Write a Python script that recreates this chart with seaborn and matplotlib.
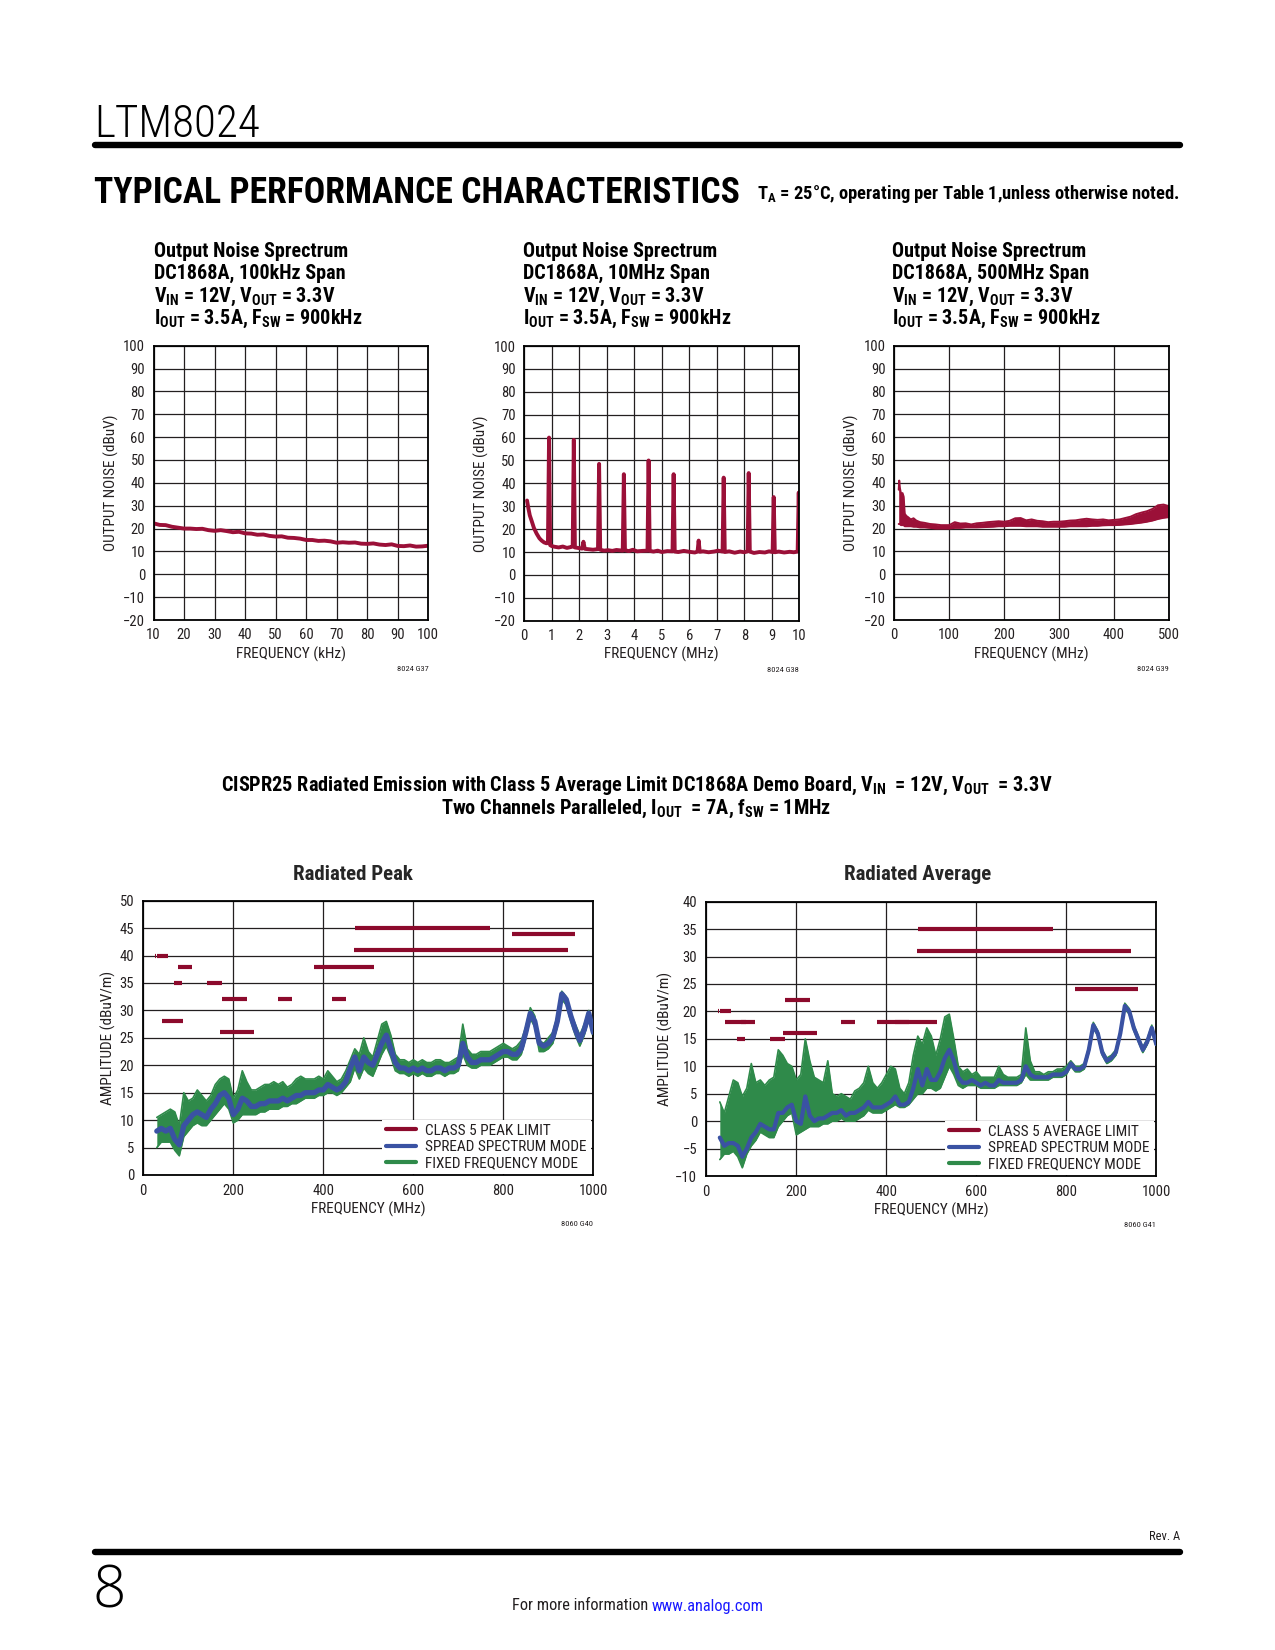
import matplotlib
matplotlib.use("Agg")
import matplotlib.pyplot as plt
import seaborn as sns
import pandas as pd
from matplotlib import font_manager
from matplotlib.lines import Line2D

# ---------------- data ----------------
# Output noise, 100kHz span
freq1_khz = [10, 12, 14, 16, 18, 20, 22, 24, 26, 28,
             30, 32, 34, 36, 38, 40, 42, 44, 46, 48,
             50, 52, 54, 56, 58, 60, 62, 64, 66, 68,
             70, 72, 74, 76, 78, 80, 82, 84, 86, 88,
             90, 92, 94, 96, 98, 100]
noise1_dbuv = [22.3, 21.6, 21.5, 20.8, 20.4, 20.0, 20.0, 19.8, 19.9, 19.3,
               19.0, 19.3, 18.9, 18.4, 18.6, 17.9, 17.8, 17.3, 17.4, 16.8,
               16.5, 16.6, 16.0, 15.9, 15.6, 15.0, 15.0, 14.6, 14.7, 14.4,
               13.8, 14.0, 13.8, 13.9, 13.4, 13.3, 13.5, 13.0, 12.8, 13.1,
               12.4, 12.3, 12.6, 12.1, 12.2, 12.5]

# Output noise, 10MHz span
freq2_mhz = [0.10, 0.15, 0.20, 0.27, 0.35, 0.45, 0.55, 0.63, 0.72, 0.81,
             0.86, 0.90, 0.94, 1.00, 1.10, 1.25, 1.40, 1.55, 1.70, 1.76,
             1.80, 1.84, 1.95, 2.10, 2.15, 2.20, 2.35, 2.50, 2.68, 2.72,
             2.76, 2.90, 3.05, 3.20, 3.35, 3.58, 3.62, 3.66, 3.80, 3.95,
             4.10, 4.30, 4.48, 4.52, 4.56, 4.70, 4.85, 5.00, 5.20, 5.39,
             5.43, 5.47, 5.60, 5.80, 6.00, 6.20, 6.30, 6.34, 6.38, 6.50,
             6.70, 6.90, 7.05, 7.21, 7.25, 7.29, 7.45, 7.65, 7.85, 8.00,
             8.12, 8.16, 8.20, 8.35, 8.55, 8.75, 8.90, 9.03, 9.07, 9.11,
             9.25, 9.45, 9.65, 9.80, 9.94, 9.98, 10.0]
noise2_dbuv = [32.5, 29.0, 26.0, 23.5, 20.5, 18.0, 16.0, 15.0, 14.2, 13.8,
               14.0, 60.0, 13.0, 12.6, 12.3, 12.0, 12.4, 11.8, 12.2, 12.4,
               59.0, 12.0, 11.8, 11.5, 14.5, 11.4, 11.2, 11.0, 11.3, 48.5,
               11.0, 10.6, 10.8, 10.5, 10.9, 10.6, 44.0, 10.8, 10.4, 11.0,
               10.3, 10.5, 10.6, 50.0, 10.5, 10.2, 10.6, 10.0, 10.4, 10.3,
               44.0, 10.2, 10.0, 10.5, 10.1, 9.8, 10.2, 15.0, 10.1, 10.3,
               9.9, 10.2, 10.6, 10.2, 42.5, 10.0, 10.3, 9.7, 10.2, 9.9,
               10.3, 44.5, 10.2, 9.6, 10.0, 9.8, 10.3, 10.0, 34.0, 9.9,
               10.2, 9.8, 10.1, 9.9, 10.2, 36.0, 20.0]

# Output noise, 500MHz span (min / max envelope of the trace)
freq3_mhz = [8, 9, 10, 12, 15, 17, 19, 22, 25, 30,
             35, 40, 47, 55, 65, 75, 85, 100, 110, 120,
             130, 140, 150, 160, 170, 180, 190, 200, 210, 220,
             230, 240, 250, 260, 270, 280, 290, 300, 310, 320,
             330, 340, 350, 360, 370, 380, 390, 400, 410, 420,
             430, 440, 450, 460, 470, 480, 490, 500]
noise3_lo = [22, 22, 22, 21.5, 21.5, 21.5, 21, 21, 21, 21,
             20.8, 20.8, 20.5, 20.5, 20.3, 20, 20, 20, 20.3, 20.3,
             20.5, 20.5, 20.5, 20.6, 20.7, 20.8, 21, 21, 21.2, 21.2,
             21.2, 21, 21, 21, 20.8, 20.8, 20.8, 20.8, 20.8, 21,
             21, 21, 21, 21.2, 21.2, 21.4, 21.5, 21.5, 21.6, 21.8,
             22, 22.3, 22.6, 23, 23.5, 24.2, 24.7, 25]
noise3_hi = [37, 41, 38, 35.5, 35.5, 34, 26.5, 25.5, 25, 24,
             24.5, 23.5, 22.8, 22.5, 22, 21.8, 21.5, 21.5, 22.8, 22.2,
             22.3, 21.8, 22.3, 22.5, 22.8, 23, 23.2, 23, 23.4, 24.5,
             24.6, 23.6, 24, 23.4, 23.2, 22.8, 23, 23, 23.2, 23.5,
             23.6, 24, 24.3, 24, 23.8, 24, 23.6, 23.8, 24, 24.6,
             25.2, 26.3, 27, 27.6, 28.6, 30.2, 30.5, 29.8]

# CISPR25 radiated emission sweeps (shared frequency grid)
rad_freq_mhz = [30, 40, 50, 60, 70, 80, 90, 100, 110, 120,
                130, 140, 150, 160, 170, 180, 190, 200, 210, 220,
                230, 240, 250, 260, 270, 280, 290, 300, 310, 320,
                330, 340, 350, 360, 370, 380, 390, 400, 410, 420,
                430, 440, 450, 460, 470, 480, 490, 500, 510, 520,
                530, 540, 550, 560, 570, 580, 590, 600, 610, 620,
                630, 640, 650, 660, 670, 680, 690, 700, 710, 720,
                730, 740, 750, 760, 770, 780, 790, 800, 810, 820,
                830, 840, 850, 860, 870, 880, 890, 900, 910, 920,
                930, 940, 950, 960, 970, 980, 990, 1000]
peak_spread = [8, 8.5, 8, 8.5, 6.5, 5.5, 9, 10, 11, 11.5,
               11, 10.5, 12, 13, 14.5, 15, 14, 11, 12, 14,
               13.5, 12.5, 12.5, 13, 13, 13.5, 13.5, 13.5, 14, 13.5,
               14, 14.5, 14.5, 15, 15, 15, 15.5, 15.5, 16.5, 16,
               15.5, 16, 17, 19.5, 21.5, 19, 21.5, 20.5, 20, 22,
               24, 25.5, 23, 20.5, 19.5, 19.5, 19, 19.5, 19, 19.5,
               19, 19, 19.5, 19.5, 19, 19.5, 19.5, 20, 24, 21.5,
               20.5, 20.5, 21, 21, 21, 21.5, 22, 22.5, 22.5, 22,
               22, 23, 26, 29.5, 28, 24, 23.5, 24, 25, 28,
               33, 32, 29, 26.5, 24.5, 26.5, 29.5, 26]
peak_fixed_lo = [5, 6, 6, 6, 4.5, 3.5, 7, 8, 9, 9.5,
                 9, 9, 10, 11, 12, 13, 12, 9.5, 10, 11,
                 11, 11, 11, 11.5, 11.5, 12, 12, 12, 12.5, 12.5,
                 13, 13, 13.5, 14, 14, 14, 14.5, 14.5, 15, 15,
                 14.5, 15, 16, 17, 19.5, 17.5, 19.5, 18.5, 18, 20,
                 22, 23.5, 21.5, 19, 18.5, 18.5, 18, 18.5, 18, 18.5,
                 18, 18, 18.5, 18.5, 18, 18.5, 18.5, 19, 22, 20,
                 19.5, 19.5, 20, 20, 20, 20.5, 21, 21.5, 21.5, 21,
                 21, 22, 25, 28.5, 27, 22.5, 22.5, 23, 24, 27,
                 32, 31, 28, 25.5, 23.5, 25.5, 28.5, 25]
peak_fixed_hi = [10.5, 11, 11.5, 12, 11.5, 9, 15, 13.5, 14, 15.5,
                 14.5, 13.5, 14.5, 16.5, 17.5, 18, 17.5, 14, 15.5, 19,
                 17, 15.5, 15.5, 16, 16.5, 16.5, 17, 16.5, 17, 16,
                 16.5, 17.5, 18, 17.5, 17.5, 17.5, 18, 17.5, 19, 18,
                 17, 17.5, 19, 21, 23, 22, 25, 22.5, 21.5, 24.5,
                 27.5, 28, 25.5, 22, 21, 21, 20.5, 21, 20.5, 21,
                 20.5, 20.5, 21, 21, 20.5, 20.5, 21, 21.5, 27.5, 23,
                 22, 22, 22.5, 22.5, 22.5, 23, 23.5, 24, 23.5, 23,
                 23.5, 24.5, 27, 30.5, 29, 24.5, 24, 25, 26, 29,
                 33.5, 32.5, 29.5, 27.5, 25.5, 27.5, 30, 26.5]
avg_spread = [-3, -4.5, -4, -4, -4.5, -6.5, -5, -3, -2, -0.5,
              -1, -1.5, -1.5, 1.5, 1.5, 2.5, 3, 0, -0.5, 4.5,
              1, 0, 0.5, 0.5, 1, 1.5, 1.5, 2, 1, 1.5,
              1.5, 2, 2.5, 3.5, 2.5, 2.5, 2.5, 3, 3.5, 4.5,
              3, 3, 3.5, 6, 9.5, 6.5, 9.5, 7.5, 7.5, 9,
              11.5, 13, 11, 8, 7, 7, 7.5, 7, 6.5, 7,
              6.5, 6.5, 7.5, 7, 7, 7, 7, 7.5, 10, 8.5,
              8, 8, 8, 8, 8.5, 8.5, 8.5, 9, 10.5, 9.5,
              9.5, 10, 13, 17.5, 16, 12.5, 11, 11.5, 12.5, 16,
              21, 20, 17, 15, 13, 14.5, 17, 14]
avg_fixed_lo = [-7, -6, -6, -5.5, -6.5, -8.5, -6, -4.5, -3.5, -2,
                -2.5, -3, -3, -1, 0, 1, 1.5, -2.5, -2, -1.5,
                -1, -1, -1, -0.5, -0.5, 0, 0, 0.5, 0, 0,
                0, 0.5, 1, 2, 1.5, 1.5, 1.5, 2, 2.5, 3,
                2.5, 2.5, 3, 4, 5, 5, 6, 6, 5.5, 6,
                8, 10, 8.5, 6.5, 6, 6.5, 6.5, 6.5, 6, 6,
                6, 6, 6.5, 6.5, 6.5, 6.5, 6.5, 7, 8.5, 7.5,
                7.5, 7.5, 7.5, 7.5, 8, 8, 8, 8.5, 10, 9,
                9, 9.5, 12.5, 17, 15.5, 12, 10.5, 11, 12, 15.5,
                20.5, 19.5, 16.5, 14.5, 12.5, 14, 16.5, 13.5]
avg_fixed_hi = [3.5, 1.5, 4.5, 7.5, 7, 4.5, 6, 10.5, 7, 7.5,
                6.5, 7.5, 8, 13, 12, 10.5, 10, 7.5, 8.5, 15,
                11, 8, 7.5, 7, 11, 5, 4.5, 5, 4.5, 4,
                5.5, 6, 7, 10, 7, 6, 7, 8.5, 10, 9.5,
                6, 5, 7, 12, 15.5, 14, 17, 15.5, 12, 15,
                19, 19.5, 15, 10, 9, 9.5, 8.5, 9, 8, 8,
                8, 8, 10, 8.5, 8, 8, 8, 8.5, 17, 11,
                9, 9, 8.5, 9, 9, 9.5, 9.5, 10, 11, 10,
                10, 10.5, 13.5, 18, 16.5, 13, 11.5, 12, 13, 16.5,
                21.5, 20.5, 17.5, 15.5, 13.5, 15, 17.5, 14.5]

# CISPR25 class 5 limit bands (MHz) and levels (dBuV/m)
limit_start = [5.9, 26, 30, 41, 68, 76, 142, 174, 171, 300, 380, 420, 470, 468, 820]
limit_stop = [6.2, 28, 54, 88, 87, 108, 175, 230, 245, 330, 512, 450, 770, 944, 960]
peak_limit = [40, 40, 40, 28, 35, 38, 35, 32, 26, 32, 38, 32, 45, 41, 44]
avg_limit = [20, 20, 20, 18, 15, 18, 15, 22, 16, 18, 18, 18, 35, 31, 24]

legend_peak = ["CLASS 5 PEAK LIMIT", "SPREAD SPECTRUM MODE", "FIXED FREQUENCY MODE"]
legend_avg = ["CLASS 5 AVERAGE LIMIT", "SPREAD SPECTRUM MODE", "FIXED FREQUENCY MODE"]

# ---------------- style ----------------
sns.set_theme(style="white")
installed = {f.name for f in font_manager.fontManager.ttflist}
NARROW = "Roboto Condensed" if "Roboto Condensed" in installed else "DejaVu Sans"
plt.rcParams["font.family"] = [NARROW, "DejaVu Sans"]
plt.rcParams["axes.unicode_minus"] = True

TRACE = "#9b1038"
LIMIT = "#8c0a2c"
BLUE = "#3a52a3"
GREEN = "#2f8a4a"
INK = "#231f20"

W, H = 1275, 1650
fig = plt.figure(figsize=(W / 100, H / 100), dpi=100)


def px(x, y):
    return x / W, 1 - y / H


def add_axes(left, top, right, bottom):
    return fig.add_axes([left / W, 1 - bottom / H, (right - left) / W, (bottom - top) / H])


def style(ax, xlim, ylim, xticks, yticks, xlabel, ylabel, ylab_x, xlab_y):
    ax.set_xlim(xlim)
    ax.set_ylim(ylim)
    ax.set_xticks(xticks)
    ax.set_yticks(yticks)
    ax.set_axisbelow(True)
    ax.grid(True, color=INK, linewidth=0.9)
    for s in ax.spines.values():
        s.set_visible(True)
        s.set_color("black")
        s.set_linewidth(1.3)
    ax.tick_params(length=0, pad=6, labelsize=10.5, labelcolor=INK)
    ax.set_xlabel(xlabel, fontsize=11, color=INK)
    ax.set_ylabel(ylabel, fontsize=11, color=INK)
    ax.xaxis.set_label_coords(0.5, xlab_y)
    ax.xaxis.label.set_va("center")
    ax.yaxis.set_label_coords(ylab_x, 0.5)
    ax.yaxis.label.set_va("center")


# ---------------- header ----------------
fig.text(*px(94, 137), "LTM8024", fontsize=32.5, fontweight=300, color="black", va="baseline")
fig.add_artist(Line2D([95 / W, 1180 / W], [1 - 144.5 / H] * 2, color="black", lw=4.6))
fig.text(*px(94, 203), "TYPICAL PERFORMANCE CHARACTERISTICS", fontsize=25.7, fontweight="bold",
         color="black", va="baseline")
fig.text(*px(1180, 199), r"T$\mathregular{_A}$ = 25°C, operating per Table 1,unless otherwise noted.",
         ha="right", fontsize=13.3, fontweight="bold", color="black", va="baseline")

# ---------------- top row: output noise spectrum ----------------
top_titles = ["DC1868A, 100kHz Span", "DC1868A, 10MHz Span", "DC1868A, 500MHz Span"]
title_left = [154, 523, 892]
for left, sub in zip(title_left, top_titles):
    lines = ["Output Noise Sprectrum", sub,
             r"$\mathregular{V_{IN}}$ = 12V, $\mathregular{V_{OUT}}$ = 3.3V",
             r"$\mathregular{I_{OUT}}$ = 3.5A, $\mathregular{F_{SW}}$ = 900kHz"]
    for base, line in zip([256.7, 279, 302, 324.3], lines):
        fig.text(*px(left, base), line, fontsize=14.5, fontweight="bold", color="black", va="baseline")

yt = list(range(-20, 101, 10))

ax1 = add_axes(153.5, 345.7, 428.3, 620)
sns.lineplot(x=freq1_khz, y=noise1_dbuv, ax=ax1, color=TRACE, linewidth=2.8, estimator=None)
style(ax1, (10, 100), (-20, 100), list(range(10, 101, 10)), yt,
      "FREQUENCY (kHz)", "OUTPUT NOISE (dBuV)", -0.153, -0.124)

ax2 = add_axes(524.3, 346, 799.3, 620.7)
sns.lineplot(x=freq2_mhz, y=noise2_dbuv, ax=ax2, color=TRACE, linewidth=2.8, estimator=None)
style(ax2, (0, 10), (-20, 100), list(range(0, 11)), yt,
      "FREQUENCY (MHz)", "OUTPUT NOISE (dBuV)", -0.155, -0.124)

ax3 = add_axes(894.3, 345.7, 1169, 620)
ax3.fill_between(freq3_mhz, noise3_lo, noise3_hi, color=TRACE, linewidth=0)
sns.lineplot(x=freq3_mhz, y=noise3_hi, ax=ax3, color=TRACE, linewidth=1.4, estimator=None)
sns.lineplot(x=freq3_mhz, y=noise3_lo, ax=ax3, color=TRACE, linewidth=1.4, estimator=None)
style(ax3, (0, 500), (-20, 100), list(range(0, 501, 100)), yt,
      "FREQUENCY (MHz)", "OUTPUT NOISE (dBuV)", -0.155, -0.124)

for ax, code in zip([ax1, ax2, ax3], ["8024 G37", "8024 G38", "8024 G39"]):
    ax.text(1.0, -0.178, code, transform=ax.transAxes, ha="right", va="center", fontsize=6, color=INK)

# ---------------- CISPR25 block ----------------
fig.text(*px(636.5, 791), r"CISPR25 Radiated Emission with Class 5 Average Limit DC1868A Demo Board, "
         r"$\mathregular{V_{IN}}$  = 12V, $\mathregular{V_{OUT}}$  = 3.3V",
         ha="center", va="baseline", fontsize=14.6, fontweight="bold", color="black")
fig.text(*px(636.5, 814), r"Two Channels Paralleled, $\mathregular{I_{OUT}}$  = 7A, $\mathregular{f_{SW}}$ = 1MHz",
         ha="center", va="baseline", fontsize=14.6, fontweight="bold", color="black")


def radiated(ax, limits, spread, fixed_lo, fixed_hi, ylim, labels, ylab_x, code, blue_lw):
    ax.fill_between(rad_freq_mhz, fixed_lo, fixed_hi, color=GREEN, linewidth=0, zorder=2)
    sns.lineplot(x=rad_freq_mhz, y=fixed_hi, ax=ax, color=GREEN, linewidth=1.2, estimator=None, zorder=2)
    sns.lineplot(x=rad_freq_mhz, y=fixed_lo, ax=ax, color=GREEN, linewidth=1.2, estimator=None, zorder=2)
    sns.lineplot(x=rad_freq_mhz, y=spread, ax=ax, color=BLUE, linewidth=blue_lw, estimator=None, zorder=3)
    ax.hlines(limits, limit_start, limit_stop, color=LIMIT, linewidth=3.0, zorder=4)
    style(ax, (0, 1000), ylim, list(range(0, 1001, 200)), list(range(ylim[0], ylim[1] + 1, 5)),
          "FREQUENCY (MHz)", "AMPLITUDE (dBuV/m)", ylab_x, -0.125)
    ax.tick_params(pad=6.5)
    handles = [Line2D([], [], color=c, lw=3) for c in (LIMIT, BLUE, GREEN)]
    leg = ax.legend(handles, labels, loc="lower right", bbox_to_anchor=(0.994, 0.004),
                    borderaxespad=0, frameon=True, fancybox=False, framealpha=1,
                    facecolor="white", edgecolor="none", fontsize=11, borderpad=0.25,
                    handlelength=2.0, handletextpad=0.6, labelspacing=0.14)
    leg.set_zorder(5)
    for t in leg.get_texts():
        t.set_color(INK)
    ax.text(1.0, -0.18, code, transform=ax.transAxes, ha="right", va="center", fontsize=6, color=INK)


axp = add_axes(143.3, 900.7, 593.3, 1175)
radiated(axp, peak_limit, peak_spread, peak_fixed_lo, peak_fixed_hi, (0, 50), legend_peak, -0.078,
         "8060 G40", 3.8)
fig.text(*px(353.4, 875), "Radiated Peak", ha="center", va="center", fontsize=15, fontweight="bold")

axa = add_axes(706.3, 901.7, 1156.3, 1176)
radiated(axa, avg_limit, avg_spread, avg_fixed_lo, avg_fixed_hi, (-10, 40), legend_avg, -0.092,
         "8060 G41", 3.0)
fig.text(*px(918, 875), "Radiated Average", ha="center", va="center", fontsize=15, fontweight="bold")

# ---------------- footer ----------------
fig.text(*px(1180, 1537), "Rev. A", ha="right", va="center", fontsize=9, color=INK)
fig.add_artist(Line2D([95 / W, 1180 / W], [1 - 1551.5 / H] * 2, color="black", lw=4.6))
fig.text(*px(92, 1607.5), "8", fontsize=42, fontweight=300, va="baseline", color="black",
         family=["Open Sans", NARROW])
fig.text(*px(648, 1610.5), "For more information", ha="right", va="baseline", fontsize=11.8, color=INK)
fig.text(*px(652, 1610.5), "www.analog.com", ha="left", va="baseline", fontsize=11.8, color="#1a1aff")

fig.savefig("out.png", dpi=100)
